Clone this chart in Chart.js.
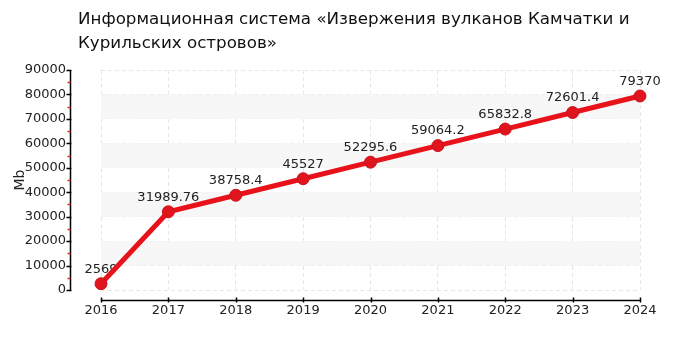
<!DOCTYPE html>
<html>
<head>
<meta charset="utf-8">
<script src="https://cdn.jsdelivr.net/npm/chart.js@4"></script>
<style>
  body { margin: 0; background: #fff; }
  #wrap { position: relative; width: 700px; height: 350px; }
  #title {
    position: absolute; left: 78px; top: 6px;
    font-family: "DejaVu Sans", sans-serif; font-size: 16.7px; line-height: 24px; color: #111;
  }
</style>
</head>
<body>
<div id="wrap">
  <canvas id="chart" width="700" height="350"></canvas>
  <div id="title">Информационная система «Извержения вулканов Камчатки и<br>Курильских островов»</div>
</div>
<script>
const years = ['2016', '2017', '2018', '2019', '2020', '2021', '2022', '2023', '2024'];
const sizes = [2569, 31989.76, 38758.4, 45527, 52295.6, 59064.2, 65832.8, 72601.4, 79370];
const yMax = 90000;
const yStep = 10000;

// bands, custom axes, minor ticks and value labels
const decor = {
  id: 'decor',
  beforeDatasetsDraw(chart) {
    const { ctx, chartArea: a, scales: { y } } = chart;
    ctx.save();
    ctx.fillStyle = '#f7f7f7';
    for (let v = 10000; v < yMax; v += 2 * yStep) {
      const y1 = y.getPixelForValue(v), y2 = y.getPixelForValue(v + yStep);
      ctx.fillRect(a.left, y2, a.right - a.left, y1 - y2);
    }
    // value labels (under the line, like the original)
    const meta = chart.getDatasetMeta(0);
    ctx.fillStyle = '#222';
    ctx.font = '13px "DejaVu Sans"';
    ctx.textAlign = 'center';
    ctx.textBaseline = 'bottom';
    meta.data.forEach((pt, i) => {
      ctx.fillText(String(sizes[i]), pt.x, pt.y - 8);
    });
    ctx.restore();
  },
  afterDraw(chart) {
    const { ctx, chartArea: a, scales: { x, y } } = chart;
    ctx.save();
    // y axis
    const ax = a.left - 30.5;
    ctx.strokeStyle = '#000';
    ctx.lineWidth = 1.5;
    ctx.beginPath();
    ctx.moveTo(ax, y.getPixelForValue(yMax));
    ctx.lineTo(ax, y.getPixelForValue(0));
    for (let v = 0; v <= yMax; v += yStep) {
      const py = Math.round(y.getPixelForValue(v)) + 0.5;
      ctx.moveTo(ax - 4, py);
      ctx.lineTo(ax + 1, py);
    }
    ctx.stroke();
    ctx.strokeStyle = '#ee2222';
    ctx.beginPath();
    for (let v = yStep / 2; v < yMax; v += yStep) {
      const py = Math.round(y.getPixelForValue(v)) + 0.5;
      ctx.moveTo(ax - 3, py);
      ctx.lineTo(ax, py);
    }
    ctx.stroke();
    // x axis
    const ay = a.bottom + 10.5;
    ctx.strokeStyle = '#000';
    ctx.beginPath();
    ctx.moveTo(x.getPixelForValue(0), ay);
    ctx.lineTo(x.getPixelForValue(years.length - 1), ay);
    years.forEach((_, i) => {
      const px = Math.round(x.getPixelForValue(i)) + 0.5;
      ctx.moveTo(px, ay - 3);
      ctx.lineTo(px, ay + 2);
    });
    ctx.stroke();
    ctx.restore();
  }
};

new Chart(document.getElementById('chart'), {
  type: 'line',
  data: {
    labels: years,
    datasets: [{
      data: sizes,
      borderColor: '#e8121b',
      backgroundColor: '#e0141c',
      borderWidth: 5,
      pointRadius: 6,
      pointBorderWidth: 1,
      pointBorderColor: '#c8141c',
      tension: 0
    }]
  },
  options: {
    responsive: false,
    animation: false,
    layout: { padding: { top: 70, right: 60, left: 0, bottom: 0 } },
    plugins: { legend: { display: false }, tooltip: { enabled: false } },
    scales: {
      x: {
        afterFit: s => { s.height = 60; },
        grid: { color: '#e6e6e6', drawTicks: false },
        border: { display: false, dash: [4, 3] },
        ticks: { padding: 13, color: '#222', font: { family: 'DejaVu Sans', size: 13 } }
      },
      y: {
        min: 0, max: yMax,
        afterFit: s => { s.width = 101; },
        grid: { color: '#e6e6e6', drawTicks: false },
        border: { display: false, dash: [4, 3] },
        ticks: {
          stepSize: yStep, padding: 35, color: '#222',
          font: { family: 'DejaVu Sans', size: 13 },
          callback: v => String(v)
        },
        title: { display: true, text: 'Mb', color: '#222', padding: { top: 12, bottom: 0 }, font: { family: 'DejaVu Sans', size: 14 } }
      }
    }
  },
  plugins: [decor]
});
</script>
</body>
</html>
